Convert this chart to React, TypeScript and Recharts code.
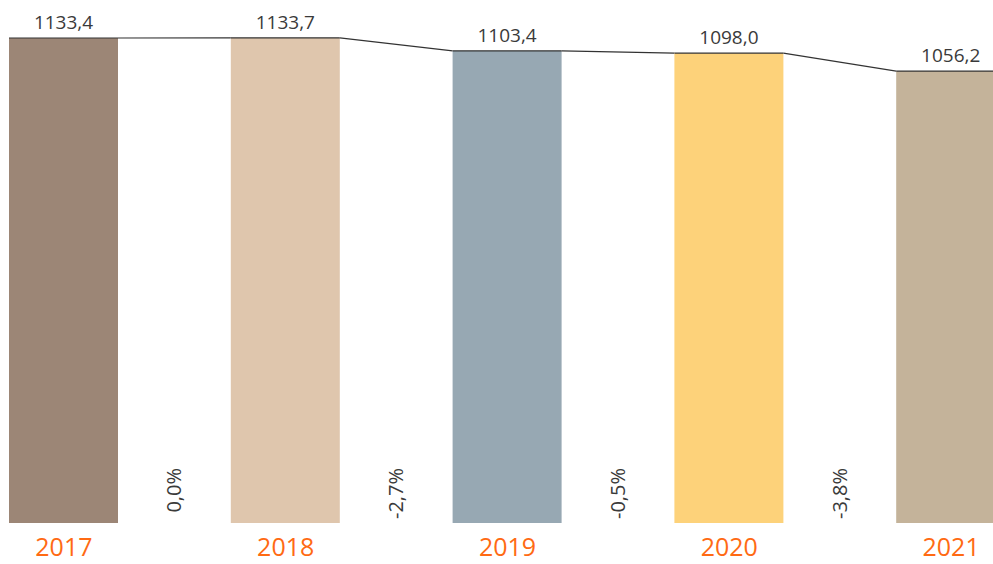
import React from "react"
import { Bar, BarChart, Cell, LabelList, XAxis, YAxis } from "recharts"

const years = ["2017", "2018", "2019", "2020", "2021"]
const volumes = [1133.4, 1133.7, 1103.4, 1098.0, 1056.2]
const changes = [0.0, -2.7, -0.5, -3.8]
const barColors = ["#9C8676", "#DFC6AD", "#97A8B3", "#FDD27A", "#C4B39A"]

const data = years.map((year, i) => ({ year, value: volumes[i] }))

// chart is wider than the window; the last bar runs off the right edge
const CHART_W = 1109
const CHART_LEFT = -47
const STEP = CHART_W / years.length
const FONT = "'Open Sans', 'Noto Sans', sans-serif"

const fmt = (v: number) => v.toFixed(1).replace(".", ",")

function BarWithLink(props: any) {
  const { x, y, width, height, index, fill } = props
  const base = y + height
  const next = volumes[index + 1]
  const change = changes[index]
  const gapX = x + width + (STEP - width) / 2
  let link = null
  if (next !== undefined) {
    const nextY = base - (height * next) / volumes[index]
    link = (
      <line x1={x + width} y1={y} x2={x + STEP} y2={nextY} stroke="#333" strokeWidth={1.2} />
    )
  }
  return (
    <g>
      <rect x={x} y={y} width={width} height={height} fill={fill} />
      <line x1={x} y1={y} x2={x + width} y2={y} stroke="#333" strokeWidth={1.2} />
      {link}
      {change !== undefined && (
        <text
          x={gapX}
          y={468}
          dy="0.35em"
          textAnchor="end"
          transform={`rotate(-90, ${gapX}, 468)`}
          fontFamily={FONT}
          fontSize={20}
          fill="#3a3a3a"
        >
          {fmt(change) + "%"}
        </text>
      )}
    </g>
  )
}

function YearTick(props: any) {
  const { x, y, payload } = props
  return (
    <text
      x={x}
      y={y + 33}
      textAnchor="middle"
      fontFamily={FONT}
      fontSize={25}
      fontWeight={500}
      fill="#FF6A13"
    >
      {payload.value}
    </text>
  )
}

function ValueLabel(props: any) {
  const { x, y, width, value } = props
  return (
    <text x={x + width / 2} y={y - 9} textAnchor="middle" fontFamily={FONT} fontSize={19} fill="#3a3a3a">
      {fmt(value)}
    </text>
  )
}

export default function App() {
  return (
    <div
      style={{
        position: "absolute",
        left: 0,
        top: 0,
        width: 993,
        height: 564,
        overflow: "hidden",
        background: "#fff",
      }}
    >
      <div style={{ position: "absolute", left: CHART_LEFT, top: 0 }}>
        <BarChart
          width={CHART_W}
          height={564}
          data={data}
          margin={{ top: 9.5, right: 0, left: 0, bottom: 0 }}
        >
          <XAxis
            dataKey="year"
            axisLine={false}
            tickLine={false}
            tickSize={0}
            tickMargin={0}
            height={41}
            tick={<YearTick />}
            interval={0}
          />
          <YAxis hide domain={[0, 1200]} />
          <Bar dataKey="value" barSize={109} shape={<BarWithLink />} isAnimationActive={false}>
            {data.map((d, i) => (
              <Cell key={d.year} fill={barColors[i]} />
            ))}
            <LabelList dataKey="value" content={<ValueLabel />} />
          </Bar>
        </BarChart>
      </div>
    </div>
  )
}
